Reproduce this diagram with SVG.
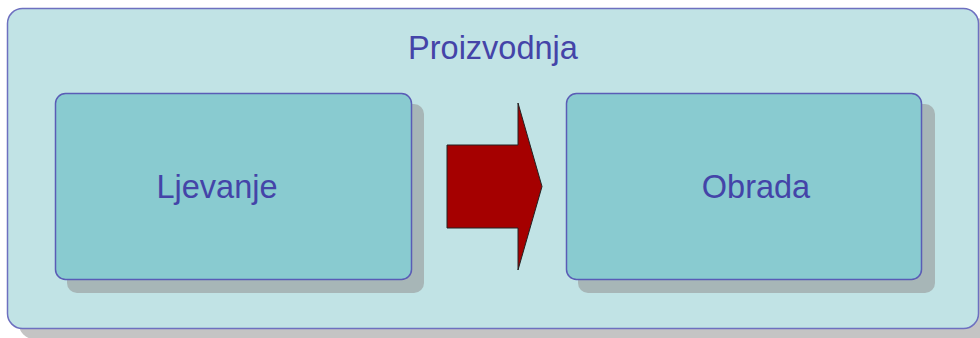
<svg xmlns="http://www.w3.org/2000/svg" width="980" height="338" viewBox="0 0 980 338">
  <style>
    .shadow { fill: #a7b6b7; }
    .box { fill: #89cbd0; stroke: #5a5cb6; stroke-width: 1.5; }
    .label { font-family: "Liberation Sans", Arial, sans-serif; font-size: 32.5px; fill: #4444a8; text-anchor: middle; }
  </style>
  <rect width="980" height="338" fill="#ffffff"/>

  <!-- container -->
  <g id="proizvodnja">
    <rect x="19" y="18" width="972" height="321" rx="15" fill="#c4c4c4"/>
    <rect x="7.5" y="8.5" width="971" height="320" rx="15" fill="#c1e3e5" stroke="#6e70c0" stroke-width="1.5"/>
    <text class="label" x="493" y="59">Proizvodnja</text>
  </g>

  <g id="ljevanje">
    <rect class="shadow" x="67" y="104" width="357" height="189" rx="10"/>
    <rect class="box" x="55.5" y="93.5" width="356" height="186" rx="10"/>
    <text class="label" x="217" y="198">Ljevanje</text>
  </g>

  <g id="obrada">
    <rect class="shadow" x="578" y="104" width="357" height="189" rx="10"/>
    <rect class="box" x="566.5" y="93.5" width="355" height="186" rx="10"/>
    <text class="label" x="756" y="198">Obrada</text>
  </g>

  <g id="connectors">
    <path d="M447,145 L518,145 L518,103 L542,186.5 L518,270 L518,228 L447,228 Z" fill="#a50000" stroke="#222222" stroke-width="1"/>
  </g>
</svg>
